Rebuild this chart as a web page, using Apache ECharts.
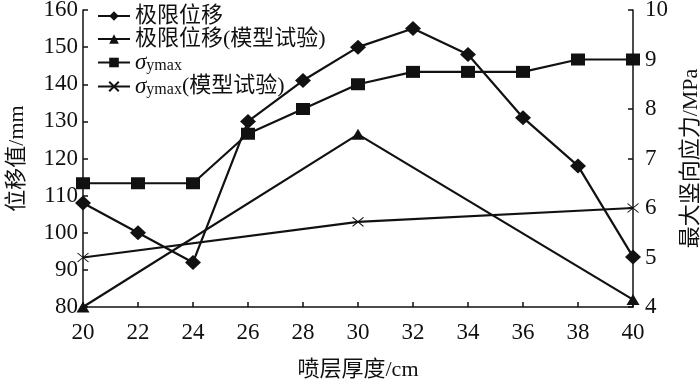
<!DOCTYPE html>
<html>
<head>
<meta charset="utf-8">
<script src="https://cdn.jsdelivr.net/npm/echarts@6/dist/echarts.min.js"></script>
<style>
  html, body { margin: 0; padding: 0; background: #fff; }
  #chart { width: 700px; height: 380px; }
</style>
</head>
<body>
<div id="chart"></div>
<script>
  // 喷层厚度 (cm)
  var thickness = [20, 22, 24, 26, 28, 30, 32, 34, 36, 38, 40];
  // 极限位移 (mm)
  var limitDisp = [108, 100, 92, 130, 141, 150, 155, 148, 131, 118, 93.5];
  // 极限位移 模型试验 (mm)
  var testThickness = [20, 30, 40];
  var limitDispTest = [80, 126.5, 82];
  // σymax (MPa)
  var sigmaMax = [6.5, 6.5, 6.5, 7.5, 8.0, 8.5, 8.75, 8.75, 8.75, 9.0, 9.0];
  // σymax 模型试验 (MPa)
  var sigmaMaxTest = [5.0, 5.72, 6.0];

  function pairs(xs, ys) {
    var out = [];
    for (var i = 0; i < xs.length; i++) out.push([xs[i], ys[i]]);
    return out;
  }

  var serif = '"Liberation Serif", "Noto Sans CJK SC", serif';
  var black = '#111';
  var axisCommon = {
    axisLine: { show: true, lineStyle: { color: black, width: 1.5 } },
    axisTick: { show: true, inside: true, length: 5, lineStyle: { color: black, width: 1.5 } },
    splitLine: { show: false },
    axisLabel: { color: black, fontFamily: serif, fontSize: 23 },
    nameTextStyle: { color: black, fontFamily: serif, fontSize: 22 }
  };

  var chart = echarts.init(document.getElementById('chart'));
  var option = {
    animation: false,
    grid: { left: 83, right: 67, top: 10, bottom: 73, containLabel: false, outerBoundsMode: 'none' },
    legend: {
      orient: 'vertical',
      left: 92,
      top: 0,
      itemWidth: 32,
      itemHeight: 12,
      itemGap: 1,
      textStyle: {
        color: black, fontFamily: serif, fontSize: 22, lineHeight: 22,
        rich: {
          s: { fontFamily: serif, fontSize: 23, fontStyle: 'italic', color: black, lineHeight: 22 },
          sub: { fontFamily: serif, fontSize: 16, color: black, verticalAlign: 'bottom', lineHeight: 8 },
          t: { fontFamily: serif, fontSize: 22, color: black, lineHeight: 22 }
        }
      },
      formatter: function (name) {
        if (name === 'sigma') return '{s|σ}{sub|ymax}';
        if (name === 'sigmaTest') return '{s|σ}{sub|ymax}{t|(模型试验)}';
        return name;
      },
      data: ['极限位移', '极限位移(模型试验)', 'sigma', 'sigmaTest']
    },
    xAxis: Object.assign({}, axisCommon, {
      type: 'value',
      min: 20, max: 40, interval: 2,
      name: '喷层厚度/cm',
      nameLocation: 'middle',
      nameGap: 52,
      axisLabel: Object.assign({}, axisCommon.axisLabel, { margin: 14 })
    }),
    yAxis: [
      Object.assign({}, axisCommon, {
        type: 'value',
        min: 80, max: 160, interval: 10,
        name: '位移值/mm',
        nameLocation: 'middle',
        nameRotate: 90,
        nameGap: 55,
        axisLabel: Object.assign({}, axisCommon.axisLabel, { margin: 5 })
      }),
      Object.assign({}, axisCommon, {
        type: 'value',
        position: 'right',
        min: 4, max: 10, interval: 1,
        name: '最大竖向应力/MPa',
        nameLocation: 'middle',
        nameRotate: 90,
        nameGap: 47,
        axisLabel: Object.assign({}, axisCommon.axisLabel, { margin: 12 })
      })
    ],
    series: [
      {
        name: '极限位移', type: 'line', yAxisIndex: 0,
        data: pairs(thickness, limitDisp),
        symbol: 'path://M5,0L10,5L5,10L0,5Z', symbolSize: [16, 15],
        lineStyle: { color: black, width: 2.2 },
        itemStyle: { color: black }
      },
      {
        name: '极限位移(模型试验)', type: 'line', yAxisIndex: 0,
        data: pairs(testThickness, limitDispTest),
        symbol: 'triangle', symbolSize: [13, 11],
        lineStyle: { color: black, width: 2.2 },
        itemStyle: { color: black }
      },
      {
        name: 'sigma', type: 'line', yAxisIndex: 1,
        data: pairs(thickness, sigmaMax),
        symbol: 'rect', symbolSize: [14, 12],
        lineStyle: { color: black, width: 2.2 },
        itemStyle: { color: black }
      },
      {
        name: 'sigmaTest', type: 'line', yAxisIndex: 1,
        data: pairs(testThickness, sigmaMaxTest),
        symbol: 'path://M0,0L10,10M10,0L0,10', symbolSize: [11, 9],
        lineStyle: { color: black, width: 2.2 },
        itemStyle: { color: 'none', borderColor: black, borderWidth: 1 }
      }
    ]
  };
  chart.setOption(option);
</script>
</body>
</html>
